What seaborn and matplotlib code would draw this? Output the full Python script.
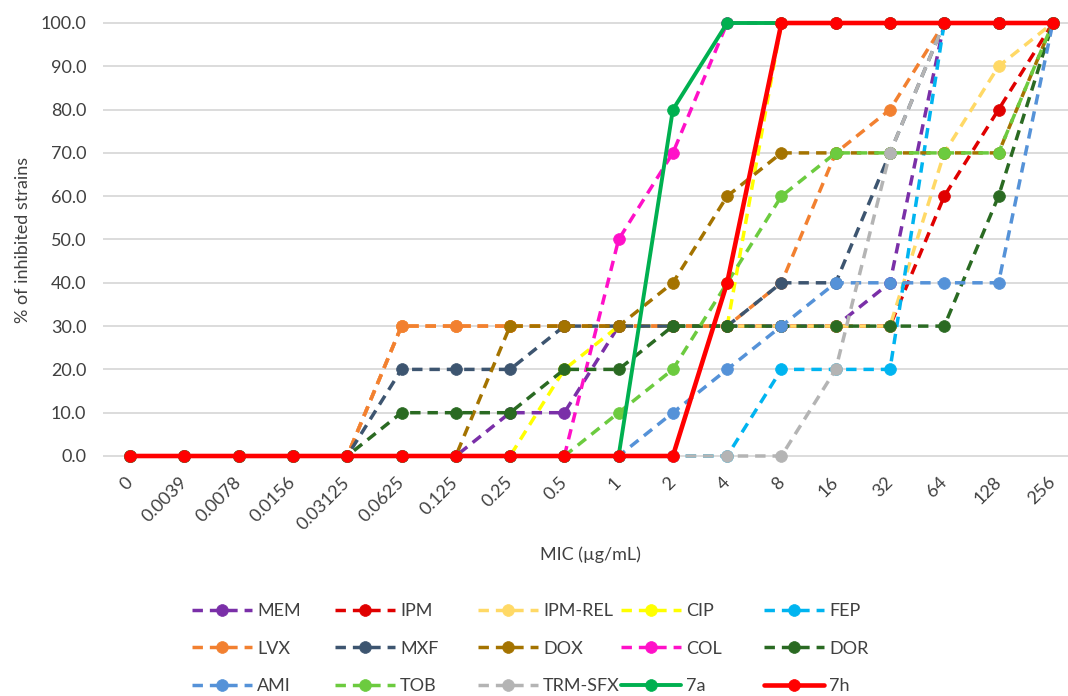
import matplotlib
matplotlib.use("Agg")
import matplotlib.pyplot as plt
import numpy as np
import seaborn as sns

# ── Data ──────────────────────────────────────────────────────
mic_labels = ["0", "0.0039", "0.0078", "0.0156", "0.03125", "0.0625",
              "0.125", "0.25", "0.5", "1", "2", "4", "8", "16", "32",
              "64", "128", "256"]

mem     = [0, 0, 0, 0, 0, 0, 0, 10, 10, 30, 30, 30, 30, 30, 40, 100, 100, 100]
ipm     = [0, 0, 0, 0, 0, 30, 30, 30, 30, 30, 30, 30, 30, 30, 30, 60, 80, 100]
ipm_rel = [0, 0, 0, 0, 0, 30, 30, 30, 30, 30, 30, 30, 30, 30, 30, 70, 90, 100]
cip     = [0, 0, 0, 0, 0, 0, 0, 0, 20, 30, 30, 30, 100, 100, 100, 100, 100, 100]
fep     = [0, 0, 0, 0, 0, 0, 0, 0, 0, 0, 0, 0, 20, 20, 20, 100, 100, 100]
lvx     = [0, 0, 0, 0, 0, 30, 30, 30, 30, 30, 30, 30, 40, 70, 80, 100, 100, 100]
mxf     = [0, 0, 0, 0, 0, 20, 20, 20, 30, 30, 30, 30, 40, 40, 70, 100, 100, 100]
dox     = [0, 0, 0, 0, 0, 0, 0, 30, 30, 30, 40, 60, 70, 70, 70, 70, 70, 100]
col     = [0, 0, 0, 0, 0, 0, 0, 0, 0, 50, 70, 100, 100, 100, 100, 100, 100, 100]
dor     = [0, 0, 0, 0, 0, 10, 10, 10, 20, 20, 30, 30, 30, 30, 30, 30, 60, 100]
ami     = [0, 0, 0, 0, 0, 0, 0, 0, 0, 0, 10, 20, 30, 40, 40, 40, 40, 100]
tob     = [0, 0, 0, 0, 0, 0, 0, 0, 0, 10, 20, 40, 60, 70, 70, 70, 70, 100]
trm_sfx = [0, 0, 0, 0, 0, 0, 0, 0, 0, 0, 0, 0, 0, 20, 70, 100, 100, 100]
c7a     = [0, 0, 0, 0, 0, 0, 0, 0, 0, 0, 80, 100, 100, 100, 100, 100, 100, 100]
c7h     = [0, 0, 0, 0, 0, 0, 0, 0, 0, 0, 0, 40, 100, 100, 100, 100, 100, 100]

series = [
    ("MEM", mem), ("IPM", ipm), ("IPM-REL", ipm_rel), ("CIP", cip), ("FEP", fep),
    ("LVX", lvx), ("MXF", mxf), ("DOX", dox), ("COL", col), ("DOR", dor),
    ("AMI", ami), ("TOB", tob), ("TRM-SFX", trm_sfx), ("7a", c7a), ("7h", c7h),
]

colors = {
    "MEM": "#7A2FA8", "IPM": "#E00000", "IPM-REL": "#FFD966", "CIP": "#FFFF00",
    "FEP": "#00B4F0", "LVX": "#F28030", "MXF": "#3D5570", "DOX": "#A47300",
    "COL": "#FF10C8", "DOR": "#2A6A22", "AMI": "#5592D8", "TOB": "#6CCB3F",
    "TRM-SFX": "#B4B4B4", "7a": "#00B050", "7h": "#FF0000",
}

TEXT = "#404040"
FS = 13

# ── Figure ────────────────────────────────────────────────────
sns.set_theme(style="white")
plt.rcParams["font.family"] = ["Lato", "DejaVu Sans"]

W, H = 1068, 696
fig = plt.figure(figsize=(W / 100, H / 100), dpi=100)
y0_px, y100_px = 456, 23
unit = (y0_px - y100_px) / 100
ax = fig.add_axes([103 / W, 1 - (y0_px + unit) / H,
                   (W - 103) / W, (y0_px - y100_px + 2 * unit) / H])

x = np.arange(len(mic_labels))
handles = {}
for name, vals in series:
    solid = name in ("7a", "7h")
    lw = {"7a": 2.8, "7h": 3.3}.get(name, 2.5)
    sns.lineplot(x=x, y=vals, ax=ax, color=colors[name], linewidth=lw,
                 linestyle="-" if solid else (0, (3.0, 2.0)),
                 marker="o", markersize=8.5, markeredgecolor=colors[name],
                 markeredgewidth=0.5, errorbar=None, legend=False,
                 clip_on=False)
    handles[name] = ax.lines[-1]

# ── Axes ──────────────────────────────────────────────────────
ax.set_xlim(-0.5, 17.28)
ax.set_ylim(-1, 101)
ax.set_yticks(range(0, 101, 10))
ax.set_yticklabels([f"{v:.1f}" for v in range(0, 101, 10)])
ax.set_xticks(x)
ax.set_xticklabels(mic_labels, rotation=45, ha="right", va="center",
                   rotation_mode="anchor")
ax.tick_params(axis="both", length=0, labelsize=FS, colors=TEXT)
ax.tick_params(axis="y", pad=12)
ax.tick_params(axis="x", pad=14)
ax.yaxis.grid(True, color="#D9D9D9", linewidth=1.3)
ax.xaxis.grid(False)
ax.set_axisbelow(True)
for s in ax.spines.values():
    s.set_visible(False)

ax.set_xlabel("MIC (µg/mL)", fontsize=FS, color=TEXT)
ax.xaxis.set_label_coords((590 - 103) / (W - 103), -(540 - 456) / 433)
ax.set_ylabel("% of inhibited strains", fontsize=FS, color=TEXT)
ax.yaxis.set_label_coords(-(103 - 31) / (W - 103), 0.5)

# ── Legend (5 columns, row-major like Excel) ──────────────────
names = [n for n, _ in series]
for j in range(5):
    col_names = names[j::5]
    fig.legend([handles[n] for n in col_names], col_names,
               loc="upper left", bbox_to_anchor=((192 + 143 * j) / W, 1 - 603 / H),
               frameon=False, fontsize=FS, labelcolor=TEXT,
               handlelength=3.3, handletextpad=0.3, borderpad=0,
               borderaxespad=0, labelspacing=1.2)

fig.savefig("out.png", dpi=100, facecolor="white")
